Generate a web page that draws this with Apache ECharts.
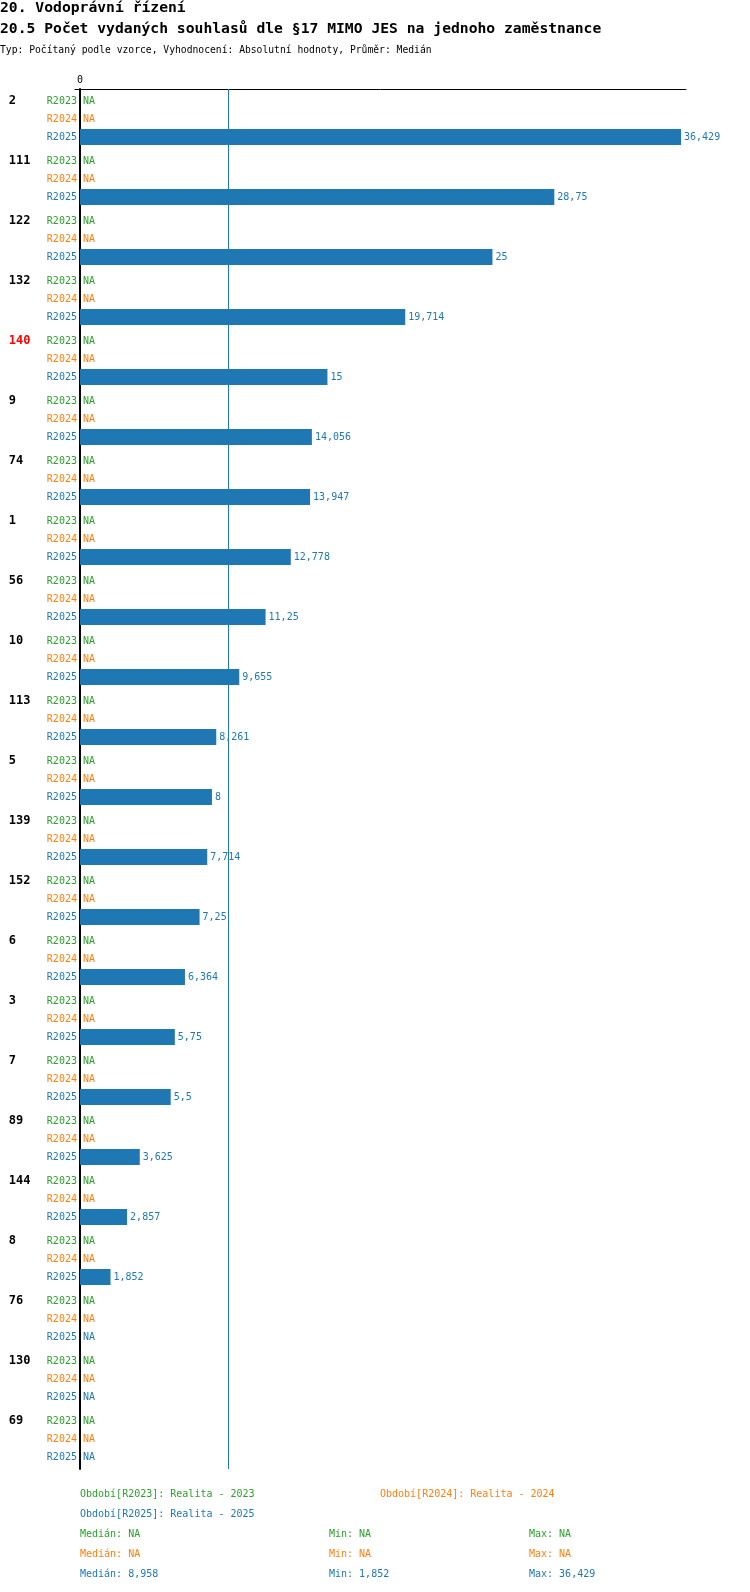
<!DOCTYPE html>
<html>
<head>
<meta charset="utf-8">
<script src="https://cdn.jsdelivr.net/npm/echarts@6/dist/echarts.min.js"></script>
<style>
  html, body { margin: 0; padding: 0; background: #fff; }
  #chart { width: 750px; height: 1592px; }
</style>
</head>
<body>
<div id="chart"></div>
<script>
// skupiny (útvary) v pořadí dle R2025
const categories = ['2', '111', '122', '132', '140', '9', '74', '1', '56', '10', '113', '5',
    '139', '152', '6', '3', '7', '89', '144', '8', '76', '130', '69'];
const highlighted = ['140'];

const periods = ['R2023', 'R2024', 'R2025'];
const periodNames = ['Realita - 2023', 'Realita - 2024', 'Realita - 2025'];
const periodColors = ['#2ca02c', '#ff7f0e', '#1f77b4'];

const r2023 = [null, null, null, null, null, null, null, null, null, null, null, null,
    null, null, null, null, null, null, null, null, null, null, null];
const r2024 = [null, null, null, null, null, null, null, null, null, null, null, null,
    null, null, null, null, null, null, null, null, null, null, null];
const r2025 = [36.429, 28.75, 25, 19.714, 15, 14.056, 13.947, 12.778, 11.25, 9.655, 8.261, 8,
    7.714, 7.25, 6.364, 5.75, 5.5, 3.625, 2.857, 1.852, null, null, null];

const seriesValues = [r2023, r2024, r2025];

const FONT = '"DejaVu Sans Mono", "Liberation Mono", monospace';

function fmt(v) {
    if (v == null) return 'NA';
    return String(+v.toFixed(3)).replace('.', ',');
}

function stats(values) {
    const vals = values.filter(v => v != null).sort((a, b) => a - b);
    if (!vals.length) return { median: null, min: null, max: null };
    const n = vals.length;
    const median = n % 2 ? vals[(n - 1) / 2] : (vals[n / 2 - 1] + vals[n / 2]) / 2;
    return { median, min: vals[0], max: vals[n - 1] };
}

const allStats = seriesValues.map(stats);

const series = [];
periods.forEach((p, i) => {
    const values = seriesValues[i];
    // neviditelná řada jen kvůli popisku období (a u první i názvu skupiny) vlevo od osy
    series.push({
        name: p + '-label',
        type: 'bar',
        stack: 's' + i,
        barWidth: 16,
        barGap: '12.5%',
        silent: true,
        data: values.map(() => 0),
        itemStyle: { color: 'transparent' },
        label: {
            show: true,
            position: 'left',
            distance: 3,
            formatter: params => {
                if (i > 0) return '{p|' + p + '}';
                const c = categories[params.dataIndex];
                const g = highlighted.includes(c) ? 'r' : 'g';
                return '{' + g + '|' + c + '}{p|' + p + '}';
            },
            rich: {
                g: { width: 38, align: 'left', fontSize: 12, fontWeight: 'bold', color: '#000', fontFamily: FONT },
                r: { width: 38, align: 'left', fontSize: 12, fontWeight: 'bold', color: '#ff0000', fontFamily: FONT },
                p: { fontSize: 10, color: periodColors[i], fontFamily: FONT }
            }
        }
    });
    const s = {
        name: p,
        type: 'bar',
        stack: 's' + i,
        barWidth: 16,
        barGap: '12.5%',
        data: values.map(v => (v == null ? 0 : v)),
        itemStyle: { color: periodColors[i] },
        label: {
            show: true,
            position: 'right',
            distance: 3,
            formatter: params => fmt(values[params.dataIndex]),
            color: periodColors[i],
            fontSize: 10,
            fontFamily: FONT
        }
    };
    if (allStats[i].median != null) {
        s.markLine = {
            silent: true,
            symbol: 'none',
            label: { show: false },
            lineStyle: { color: periodColors[i], width: 1, type: 'solid' },
            data: [{ xAxis: allStats[i].median }]
        };
    }
    series.push(s);
});

// nadpisy, legenda a statistiky
const graphic = [
    { type: 'text', left: 0, top: 1, style: { text: '20. Vodoprávní řízení', font: 'bold 14.7px ' + FONT, fill: '#000' } },
    { type: 'text', left: 0, top: 22, style: { text: '20.5 Počet vydaných souhlasů dle §17 MIMO JES na jednoho zaměstnance', font: 'bold 14.7px ' + FONT, fill: '#000' } },
    { type: 'text', left: 0, top: 45, style: { text: 'Typ: Počítaný podle vzorce, Vyhodnocení: Absolutní hodnoty, Průměr: Medián', font: '9.7px ' + FONT, fill: '#000' } }
];
const legendPos = [[80, 1494], [380, 1494], [80, 1514]];
periods.forEach((p, i) => {
    graphic.push({
        type: 'text', x: legendPos[i][0], y: legendPos[i][1],
        style: { text: 'Období[' + p + ']: ' + periodNames[i], font: '10px ' + FONT, fill: periodColors[i], textVerticalAlign: 'middle' }
    });
    const y = 1534 + i * 20;
    const st = allStats[i];
    [['Medián: ' + fmt(st.median), 80], ['Min: ' + fmt(st.min), 329], ['Max: ' + fmt(st.max), 529]].forEach(([t, x]) => {
        graphic.push({
            type: 'text', x: x, y: y,
            style: { text: t, font: '10px ' + FONT, fill: periodColors[i], textVerticalAlign: 'middle' }
        });
    });
});

const chart = echarts.init(document.getElementById('chart'), null, { renderer: 'canvas' });
chart.setOption({
    animation: false,
    backgroundColor: '#fff',
    grid: { left: 75, right: 64, top: 89, height: 1380, containLabel: false, outerBoundsMode: 'none' },
    xAxis: {
        type: 'value',
        position: 'top',
        min: -0.3,
        max: 36.73,
        axisLine: { show: true, lineStyle: { color: '#000', width: 1 } },
        axisTick: { show: false },
        splitLine: { show: false },
        axisLabel: {
            margin: 4,
            fontSize: 10,
            fontFamily: FONT,
            color: '#000',
            formatter: v => (v === 0 ? '0' : '')
        }
    },
    yAxis: {
        type: 'category',
        inverse: true,
        data: categories,
        axisLine: { show: true, onZero: true, lineStyle: { color: '#000', width: 2 } },
        axisTick: { show: false },
        splitLine: { show: false },
        axisLabel: { show: false }
    },
    series: series,
    graphic: graphic
});
</script>
</body>
</html>
